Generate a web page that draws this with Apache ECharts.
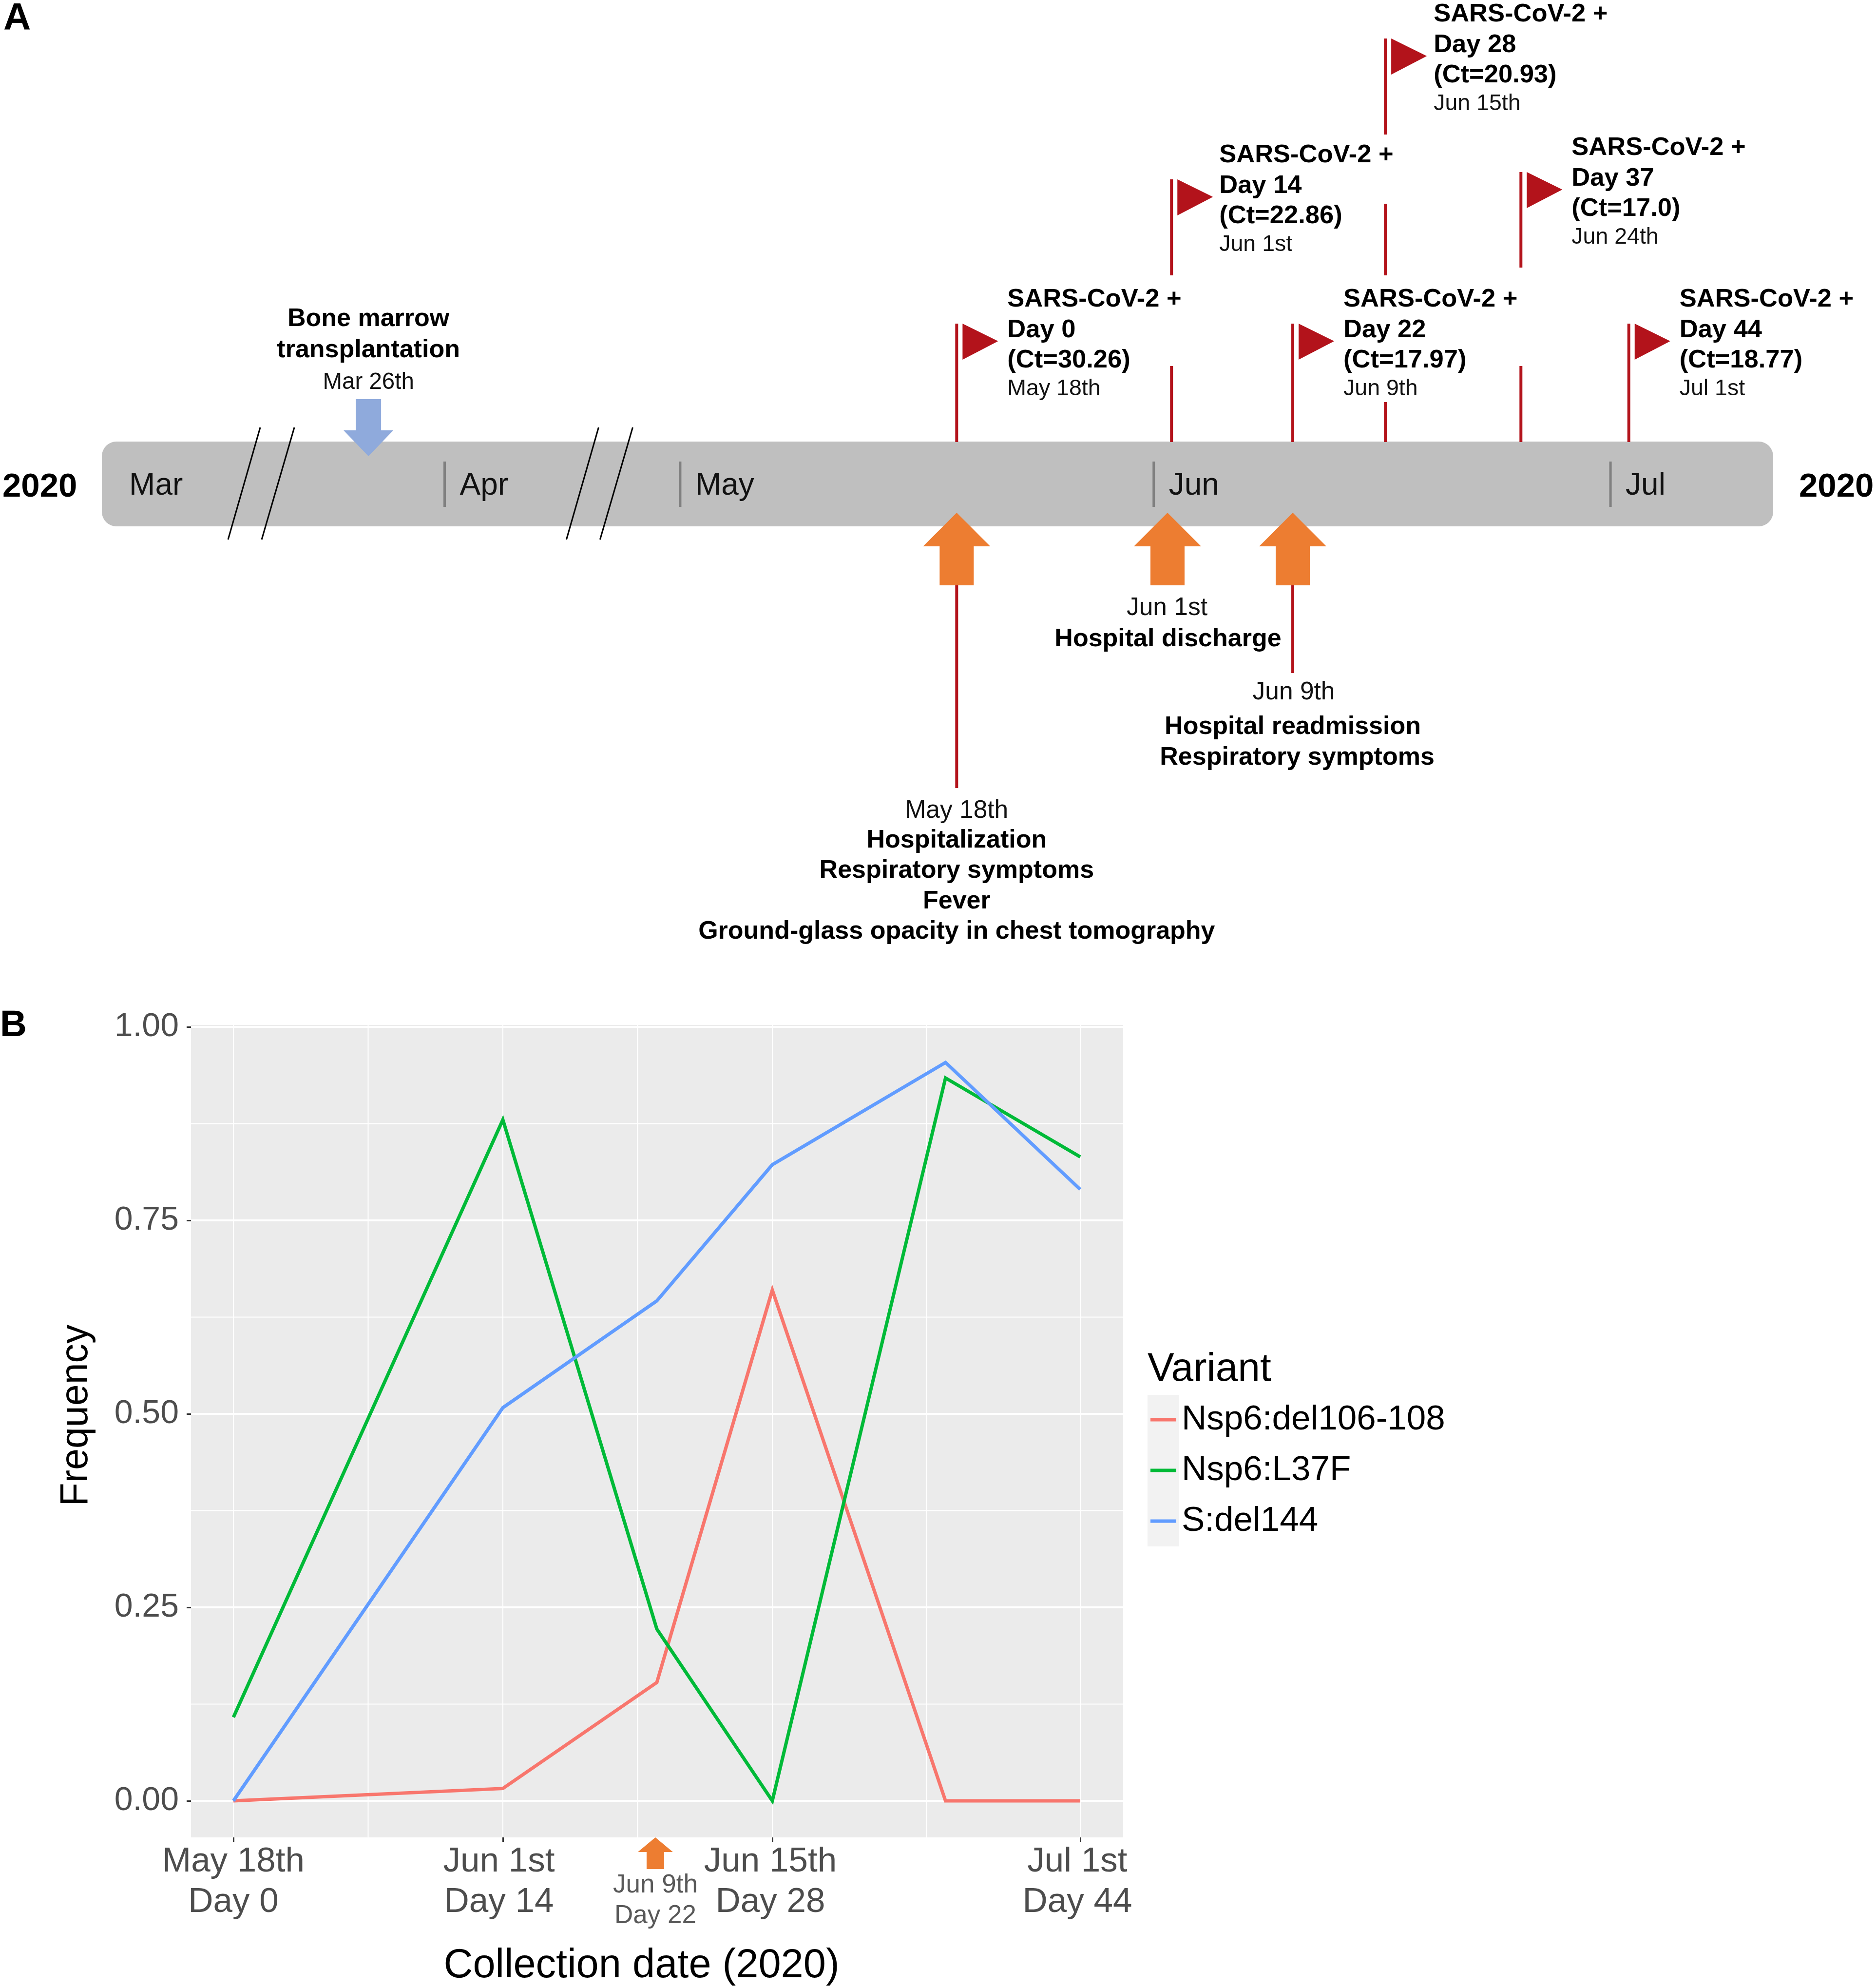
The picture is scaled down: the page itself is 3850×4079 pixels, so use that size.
<!DOCTYPE html>
<html>
<head>
<meta charset="utf-8">
<style>html,body{margin:0;padding:0;background:#fff}#chart{width:3850px;height:4079px}</style>
<script src="https://cdn.jsdelivr.net/npm/echarts@6/dist/echarts.min.js"></script>
</head>
<body>
<div id="chart"></div>
<script>
// ---------- DATA: panel A (timeline, x values are days counted from Mar 1st 2020) ----------
const timelineStart = 0;
const timelineEnd = 131.45;
const timelineBreaks = [[10.4, 17.9], [40.05, 54.59]];
const monthNames = ['Mar', 'Apr', 'May', 'Jun', 'Jul'];
const monthDays = [0.8, 29.94, 59.9, 90.9, 120.8];
const flagDays = [78, 92, 100, 106, 115, 122];
const flagHeads = ['SARS-CoV-2 +', 'SARS-CoV-2 +', 'SARS-CoV-2 +', 'SARS-CoV-2 +', 'SARS-CoV-2 +', 'SARS-CoV-2 +'];
const flagSampleDays = ['Day 0', 'Day 14', 'Day 22', 'Day 28', 'Day 37', 'Day 44'];
const flagCt = ['(Ct=30.26)', '(Ct=22.86)', '(Ct=17.97)', '(Ct=20.93)', '(Ct=17.0)', '(Ct=18.77)'];
const flagDates = ['May 18th', 'Jun 1st', 'Jun 9th', 'Jun 15th', 'Jun 24th', 'Jul 1st'];
const clinicalDays = [78, 91.8, 100];
const clinicalDates = ['May 18th', 'Jun 1st', 'Jun 9th'];
const clinicalNotes = [
  ['Hospitalization', 'Respiratory symptoms', 'Fever', 'Ground-glass opacity in chest tomography'],
  ['Hospital discharge'],
  ['Hospital readmission', 'Respiratory symptoms']
];
const transplantDay = 25;
const transplantNotes = ['Bone marrow', 'transplantation', 'Mar 26th'];
const yearLabel = '2020';

// ---------- DATA: panel B ----------
const sampleDays = [0, 14, 22, 28, 37, 44];
const seriesNames = ['Nsp6:del106-108', 'Nsp6:L37F', 'S:del144'];
const del106Values = [0, 0.016, 0.153, 0.66, 0, 0];
const l37fValues = [0.108, 0.88, 0.222, 0, 0.934, 0.832];
const del144Values = [0, 0.508, 0.646, 0.822, 0.954, 0.79];
const yTicks = [0, 0.25, 0.5, 0.75, 1];
const yMinorTicks = [0.125, 0.375, 0.625, 0.875];
const xTicks = [0, 14, 28, 44];
const xMinorTicks = [7, 21, 36];
const xTickDates = ['May 18th', 'Jun 1st', 'Jun 15th', 'Jul 1st'];
const xTickDays = ['Day 0', 'Day 14', 'Day 28', 'Day 44'];
const readmissionDay = 22;
const readmissionNotes = ['Jun 9th', 'Day 22'];

// ---------- LAYOUT & STYLE ----------
const FONT = '"Liberation Sans", Arial, sans-serif';
const bold = s => 'bold ' + s + 'px ' + FONT;
const plain = s => s + 'px ' + FONT;
const RED = '#B3131B', ORANGE = '#ED7D31', BLUE = '#8FAADC', GREY = '#BFBFBF';
const COLORS = ['#F8766D', '#00BA38', '#619CFF'];
const BAR_TOP = 906, BAR_BOTTOM = 1080;
const flagTops = [664, 368, 664, 79, 353, 664];
const flagNudge = [0, 2, 0, 2, -2, 0];
const flagTextNudge = [0, -6, 0, -5, 0, 0];
const stemSegments = [
  [[664, 907]],
  [[368, 565], [751, 907]],
  [[664, 907]],
  [[79, 276], [418, 565], [825, 907]],
  [[353, 549], [751, 907]],
  [[664, 907]]
];
const flagLineOffsets = [-49.5, 13.5, 75.5, 134.5];
const clinicalLayout = [
  { stemEnd: 1617, lines: [1664, 1725, 1787, 1850, 1912], dx: [0, 0, 0, 0, 0] },
  { stemEnd: null, lines: [1248, 1312], dx: [-1, 1] },
  { stemEnd: 1381, lines: [1421, 1492, 1555], dx: [2, 0, 9] }
];

function txt(text, x, y, font, fill, align) {
  return { type: 'text', style: { text, x, y, font, fill: fill || '#000', textAlign: align || 'left', textVerticalAlign: 'middle' } };
}
function ln(x1, y1, x2, y2, stroke, w) {
  return { type: 'line', shape: { x1, y1, x2, y2 }, style: { stroke, lineWidth: w } };
}
function poly(points, fill) {
  return { type: 'polygon', shape: { points }, style: { fill } };
}
function upArrow(x, tip, base, end, headHalf, shaftHalf) {
  return poly([[x, tip], [x + headHalf, base], [x + shaftHalf, base], [x + shaftHalf, end], [x - shaftHalf, end], [x - shaftHalf, base], [x - headHalf, base]], ORANGE);
}

const series = [];

// Timeline bar + month ticks
series.push({
  type: 'custom', xAxisIndex: 0, yAxisIndex: 0, z: 1, silent: true,
  data: [[timelineStart, timelineEnd]],
  renderItem(p, api) {
    const x0 = api.coord([api.value(0), 0])[0], x1 = api.coord([api.value(1), 0])[0];
    return { type: 'rect', shape: { x: x0, y: BAR_TOP, width: x1 - x0, height: BAR_BOTTOM - BAR_TOP, r: 30 }, style: { fill: GREY } };
  }
});
series.push({
  type: 'custom', xAxisIndex: 0, yAxisIndex: 0, z: 2, silent: true,
  data: monthDays.map((d, i) => [d, i]),
  renderItem(p, api) {
    const x = api.coord([api.value(0), 0])[0], i = api.value(1);
    const kids = [txt(monthNames[i], x + 31, 997, plain(64), '#111')];
    if (i > 0) kids.push(ln(x, 947, x, 1040, '#808080', 5));
    return { type: 'group', children: kids };
  }
});
// Axis-break slashes
series.push({
  type: 'custom', xAxisIndex: 0, yAxisIndex: 0, z: 5, silent: true,
  data: timelineBreaks.map(b => [b[0]]),
  renderItem(p, api) {
    const x = api.coord([api.value(0), 0])[0];
    return { type: 'group', children: [
      ln(x - 1, 877, x - 67, 1107, '#000', 3),
      ln(x + 69, 877, x + 2, 1107, '#000', 3)
    ] };
  }
});
// Positive-sample flags
series.push({
  type: 'custom', xAxisIndex: 0, yAxisIndex: 0, z: 3, silent: true,
  data: flagDays.map((d, i) => [d, i]),
  renderItem(p, api) {
    const i = api.value(1), x = api.coord([api.value(0), 0])[0] + flagNudge[i], top = flagTops[i];
    const kids = stemSegments[i].map(s => ln(x, s[0], x, s[1], RED, 6));
    kids.push(poly([[x + 12, top], [x + 85, top + 36], [x + 12, top + 74]], RED));
    const tx = x + 104 + flagTextNudge[i];
    kids.push(txt(flagHeads[i], tx, top + flagLineOffsets[0], bold(52.5)));
    kids.push(txt(flagSampleDays[i], tx, top + flagLineOffsets[1], bold(52.5)));
    kids.push(txt(flagCt[i], tx, top + flagLineOffsets[2], bold(52.5)));
    kids.push(txt(flagDates[i], tx, top + flagLineOffsets[3], plain(46.5), '#111'));
    return { type: 'group', children: kids };
  }
});
// Clinical events under the bar
series.push({
  type: 'custom', xAxisIndex: 0, yAxisIndex: 0, z: 4, silent: true,
  data: clinicalDays.map((d, i) => [d, i]),
  renderItem(p, api) {
    const x = api.coord([api.value(0), 0])[0], i = api.value(1), L = clinicalLayout[i];
    const kids = [];
    if (L.stemEnd) kids.push(ln(x, 1201, x, L.stemEnd, RED, 6));
    kids.push(upArrow(x, 1052, 1121, 1201, 69, 35));
    kids.push(txt(clinicalDates[i], x + L.dx[0], L.lines[0], plain(51.5), '#111', 'center'));
    clinicalNotes[i].forEach((t, k) => kids.push(txt(t, x + L.dx[k + 1], L.lines[k + 1], bold(52), '#000', 'center')));
    return { type: 'group', children: kids };
  }
});
// Transplant arrow
series.push({
  type: 'custom', xAxisIndex: 0, yAxisIndex: 0, z: 4, silent: true,
  data: [[transplantDay]],
  renderItem(p, api) {
    const x = api.coord([api.value(0), 0])[0] - 1.5;
    return { type: 'group', children: [
      poly([[x - 26, 819], [x + 26, 819], [x + 26, 883], [x + 51, 883], [x, 936], [x - 51, 883], [x - 26, 883]], BLUE),
      txt(transplantNotes[0], x, 655, bold(52), '#000', 'center'),
      txt(transplantNotes[1], x, 719, bold(52), '#000', 'center'),
      txt(transplantNotes[2], x, 785, plain(47.5), '#111', 'center')
    ] };
  }
});

// Panel B gridlines
const gridRows = [];
yTicks.forEach(v => gridRows.push(['h', v, 4]));
yMinorTicks.forEach(v => gridRows.push(['h', v, 2]));
xTicks.forEach(v => gridRows.push(['v', v, 2]));
xMinorTicks.forEach(v => gridRows.push(['v', v, 2]));
const B_XMIN = -2.203, B_XMAX = 46.23, B_YMIN = -0.0472, B_YMAX = 1.0025;
series.push({
  type: 'custom', xAxisIndex: 1, yAxisIndex: 1, z: 1, silent: true,
  encode: { x: 1, y: 1 },
  data: gridRows.map(r => [r[0] === 'h' ? 0 : 1, r[1], r[2]]),
  renderItem(p, api) {
    const horiz = api.value(0) === 0, v = api.value(1), w = api.value(2);
    const a = horiz ? api.coord([B_XMIN, v]) : api.coord([v, B_YMIN]);
    const b = horiz ? api.coord([B_XMAX, v]) : api.coord([v, B_YMAX]);
    return ln(a[0], a[1], b[0], b[1], '#FFFFFF', w);
  }
});
// Panel B lines
[del106Values, l37fValues, del144Values].forEach((vals, i) => {
  series.push({
    type: 'line', name: seriesNames[i], xAxisIndex: 1, yAxisIndex: 1, z: 3,
    data: sampleDays.map((d, k) => [d, vals[k]]),
    showSymbol: false, symbol: 'none', smooth: false, silent: true, clip: false,
    lineStyle: { color: COLORS[i], width: 7, cap: 'butt', join: 'miter' },
    itemStyle: { color: COLORS[i] }
  });
});
// Jun 9th arrow under panel B
series.push({
  type: 'custom', xAxisIndex: 1, yAxisIndex: 1, z: 6, silent: true,
  encode: { x: 0 },
  data: [[readmissionDay]],
  renderItem(p, api) {
    const x = api.coord([api.value(0), 0])[0] - 3;
    return { type: 'group', children: [
      upArrow(x, 3770, 3800, 3835, 36, 18),
      txt(readmissionNotes[0], x, 3868, plain(53), '#595959', 'center'),
      txt(readmissionNotes[1], x, 3931, plain(53), '#595959', 'center')
    ] };
  }
});

const labelStyles = {
  s0: { padding: [0, 0, 0, 0] }, s1: { padding: [0, 16, 0, 0] }, s2: { padding: [0, 8, 0, 0] }, s3: { padding: [0, 12, 0, 0] }
};
Object.values(labelStyles).forEach(s => Object.assign(s, { fontFamily: FONT, fontSize: 71, color: '#4D4D4D', lineHeight: 83 }));

const option = {
  animation: false,
  backgroundColor: '#ffffff',
  textStyle: { fontFamily: FONT },
  title: {
    text: 'Variant', left: 2355, top: 2769, padding: 0,
    textStyle: { fontFamily: FONT, fontSize: 82, fontWeight: 'normal', color: '#000' }
  },
  legend: {
    data: seriesNames, orient: 'vertical', left: 2361, top: 2873, padding: 0,
    icon: 'rect', itemWidth: 53, itemHeight: 7, itemGap: 24, selectedMode: false,
    textStyle: { fontFamily: FONT, fontSize: 71, color: '#000', padding: [0, 0, 10, 6], lineHeight: 70 }
  },
  graphic: [
    { type: 'rect', left: 2355, top: 2862, z: -1, silent: true, shape: { width: 65, height: 311 }, style: { fill: '#F2F2F2' } },
    { type: 'text', left: 7, top: 0, silent: true, style: { text: 'A', font: bold(78), fill: '#000' } },
    { type: 'text', left: 0, top: 2067, silent: true, style: { text: 'B', font: bold(76), fill: '#000' } },
    { type: 'text', left: 5, top: 965, silent: true, style: { text: yearLabel, font: bold(69), fill: '#000' } },
    { type: 'text', left: 3692, top: 965, silent: true, style: { text: yearLabel, font: bold(69), fill: '#000' } }
  ],
  grid: [
    { left: 209, width: 3430, top: 0, height: 2000, show: false },
    { left: 392, width: 1913, top: 2103, height: 1667, show: true, backgroundColor: '#EBEBEB', borderWidth: 0 }
  ],
  xAxis: [
    {
      gridIndex: 0, type: 'value', min: timelineStart, max: timelineEnd, show: false,
      breaks: timelineBreaks.map(b => ({ start: b[0], end: b[1], gap: 0 })),
      breakArea: { show: false }, splitLine: { show: false }
    },
    {
      gridIndex: 1, type: 'value', position: 'bottom', min: B_XMIN, max: B_XMAX,
      name: 'Collection date (2020)', nameLocation: 'middle', nameGap: 223,
      nameTextStyle: { fontFamily: FONT, fontSize: 83, color: '#000', padding: [0, 64, 0, 0] },
      axisLine: { show: false, onZero: false },
      axisTick: { show: true, length: 9, lineStyle: { color: '#333', width: 3 }, customValues: xTicks },
      splitLine: { show: false },
      axisLabel: {
        customValues: xTicks, margin: 9, hideOverlap: false,
        formatter: v => { const i = xTicks.indexOf(v); return '{s' + i + '|' + xTickDates[i] + '}\n{s' + i + '|' + xTickDays[i] + '}'; },
        rich: labelStyles
      }
    }
  ],
  yAxis: [
    { gridIndex: 0, type: 'value', min: 0, max: 2000, show: false, splitLine: { show: false } },
    {
      gridIndex: 1, type: 'value', position: 'left', min: B_YMIN, max: B_YMAX,
      name: 'Frequency', nameLocation: 'middle', nameGap: 195,
      nameTextStyle: { fontFamily: FONT, fontSize: 79, color: '#000', padding: [0, 0, 0, 65] },
      axisLine: { show: false, onZero: false },
      axisTick: { show: true, length: 9, lineStyle: { color: '#333', width: 3 }, customValues: yTicks },
      splitLine: { show: false },
      axisLabel: {
        customValues: yTicks, margin: 25, fontFamily: FONT, fontSize: 68, color: '#4D4D4D', padding: [12, 0, 0, 0],
        formatter: v => v.toFixed(2)
      }
    }
  ],
  series
};
const chart = echarts.init(document.getElementById('chart'), null, { renderer: 'canvas' });
chart.setOption(option);
</script>
</body>
</html>
